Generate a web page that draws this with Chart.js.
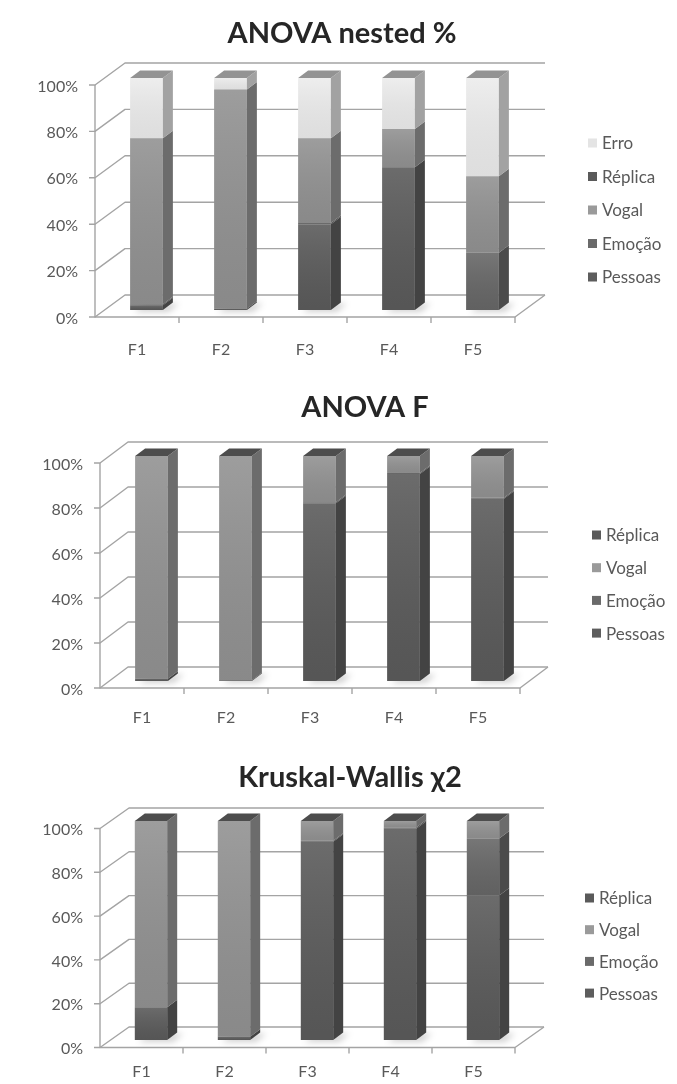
<!DOCTYPE html>
<html>
<head>
<meta charset="utf-8">
<title>ANOVA / Kruskal-Wallis por formante</title>
<script src="https://cdn.jsdelivr.net/npm/chart.js@4.4.1/dist/chart.umd.min.js"></script>
<style>
  html, body { margin: 0; padding: 0; background: #fff; }
  #page { position: relative; width: 677px; height: 1084px; overflow: hidden; }
  #page canvas { position: absolute; left: 0; }
</style>
</head>
<body>
<div id="page">
  <canvas id="chartNested" width="677" height="365" style="top:0"></canvas>
  <canvas id="chartF" width="677" height="365" style="top:365px"></canvas>
  <canvas id="chartKW" width="677" height="354" style="top:730px"></canvas>
</div>
<script>
// Formants on the x axis, share of each factor on the y axis
const categories = ['F1', 'F2', 'F3', 'F4', 'F5'];
const percentTicks = [0, 20, 40, 60, 80, 100];

// ANOVA nested %
const nestedPessoas = [2, 0.5, 37, 61.5, 0];
const nestedEmocao  = [0.5, 0, 0.5, 0, 24.7];
const nestedVogal   = [71.5, 94.5, 36.5, 16.5, 33];
const nestedReplica = [0, 0, 0, 0, 0];
const nestedErro    = [26, 5, 26, 22, 42.3];

// ANOVA F
const fPessoas = [1, 0.3, 79, 92, 81];
const fEmocao  = [0, 0, 0.5, 0.5, 0.5];
const fVogal   = [99, 99.7, 20.5, 7.5, 18.5];
const fReplica = [0, 0, 0, 0, 0];

// Kruskal-Wallis chi2
const kwPessoas = [15, 1.5, 90.5, 96.5, 66];
const kwEmocao  = [0, 0, 0.5, 0.5, 26];
const kwVogal   = [85, 98.5, 9, 3, 8];
const kwReplica = [0, 0, 0, 0, 0];

// grey shades per factor: front face, side face, top face, legend key
const shades = {
    'Pessoas': { face: '#5b5b5b', side: '#434343', top: '#4a4a4a', key: '#5d5d5d' },
    'Emoção':  { face: '#676767', side: '#4b4b4b', top: '#555555', key: '#6a6a6a' },
    'Vogal':   { face: '#929292', side: '#6c6c6c', top: '#7a7a7a', key: '#9a9a9a' },
    'Réplica': { face: '#5e5e5e', side: '#464646', top: '#4d4d4d', key: '#5a5a5a' },
    'Erro':    { face: '#ececec', side: '#a2a2a2', top: '#939393', key: '#e4e4e4' }
};

const FONT = "Lato, 'Open Sans', sans-serif";
Chart.defaults.font.family = FONT;
Chart.defaults.color = '#595959';

// Draws the side wall, back wall, floor and the depth faces of the bars
const pseudo3d = {
    id: 'pseudo3d',
    beforeDatasetsDraw(chart, args, o) {
        const { ctx, chartArea: a, scales: { x, y } } = chart;
        const [fx, fy] = o.front, [bx, by] = o.back;
        ctx.save();
        ctx.strokeStyle = '#a4a4a4';
        ctx.lineWidth = 1.4;
        ctx.lineJoin = 'round';

        y.ticks.forEach(t => {
            const py = y.getPixelForValue(t.value);
            ctx.beginPath();
            ctx.moveTo(a.left + fx - 6, py + fy);
            ctx.lineTo(a.left + fx, py + fy);
            ctx.lineTo(a.left + bx, py + by);
            ctx.lineTo(a.right + bx, py + by);
            ctx.stroke();
        });

        // front axis and floor outline
        ctx.beginPath();
        ctx.moveTo(a.left + fx, a.top + fy);
        ctx.lineTo(a.left + fx, a.bottom + fy);
        ctx.lineTo(a.right + fx, a.bottom + fy);
        ctx.lineTo(a.right + bx, a.bottom + by);
        ctx.stroke();

        for (let i = 0; i < categories.length; i++) {
            const px = x.getPixelForValue(i + 0.5) + fx;
            ctx.beginPath();
            ctx.moveTo(px, a.bottom + fy);
            ctx.lineTo(px, a.bottom + fy + 6);
            ctx.stroke();
        }

        // soft shadow under each bar
        const [dx, dy] = o.depth;
        const first = chart.getDatasetMeta(0);
        ctx.filter = 'blur(3px)';
        ctx.fillStyle = 'rgba(0,0,0,0.18)';
        first.data.forEach(bar => {
            const l = bar.x - bar.width / 2 + 4, r = bar.x + bar.width / 2 + 6;
            const b = a.bottom;
            ctx.beginPath();
            ctx.moveTo(l, b + 2);
            ctx.lineTo(r, b + 2);
            ctx.lineTo(r + dx, b + dy + 1);
            ctx.lineTo(l + dx, b + dy + 1);
            ctx.closePath();
            ctx.fill();
        });
        ctx.restore();
    },
    afterDatasetsDraw(chart, args, o) {
        const { ctx } = chart;
        const [dx, dy] = o.depth;
        const metas = chart.getSortedVisibleDatasetMetas();
        ctx.save();
        metas.forEach(meta => {
            const st = shades[chart.data.datasets[meta.index].label];
            meta.data.forEach(bar => {
                const l = bar.x - bar.width / 2, r = bar.x + bar.width / 2;
                const t = Math.min(bar.y, bar.base), b = Math.max(bar.y, bar.base);
                if (b - t < 0.05) return;

                // light sheen on the front face, brighter at the top of each block
                const g = ctx.createLinearGradient(0, t, 0, b);
                g.addColorStop(0, 'rgba(255,255,255,0.10)');
                g.addColorStop(1, 'rgba(0,0,0,0.06)');
                ctx.fillStyle = g;
                ctx.fillRect(l, t, r - l, b - t);

                ctx.fillStyle = st.side;
                ctx.beginPath();
                ctx.moveTo(r, b);
                ctx.lineTo(r, t);
                ctx.lineTo(r + dx, t + dy);
                ctx.lineTo(r + dx, b + dy);
                ctx.closePath();
                ctx.fill();
            });
        });

        // cap of every stack takes the colour of the last series
        const last = metas[metas.length - 1];
        const cap = shades[chart.data.datasets[last.index].label];
        last.data.forEach(bar => {
            const l = bar.x - bar.width / 2, r = bar.x + bar.width / 2;
            const t = Math.min(bar.y, bar.base);
            ctx.fillStyle = cap.top;
            ctx.beginPath();
            ctx.moveTo(l, t);
            ctx.lineTo(l + dx, t + dy);
            ctx.lineTo(r + dx, t + dy);
            ctx.lineTo(r, t);
            ctx.closePath();
            ctx.fill();
        });
        ctx.restore();
    },
    afterDraw(chart, args, o) {
        const { ctx } = chart;
        ctx.save();
        ctx.fillStyle = '#262626';
        ctx.font = 'bold 29px ' + FONT;
        ctx.textAlign = 'center';
        ctx.textBaseline = 'middle';
        ctx.fillText(o.title, o.titleX, o.titleY);

        ctx.font = '17px ' + FONT;
        ctx.textAlign = 'left';
        chart.data.datasets.slice().reverse().forEach((ds, i) => {
            const ly = o.legendY + i * o.legendGap;
            ctx.fillStyle = shades[ds.label].key;
            ctx.fillRect(o.legendX, ly - 4.5, 9, 9);
            ctx.fillStyle = '#595959';
            ctx.fillText(ds.label, o.legendX + 14, ly + 1);
        });
        ctx.restore();
    }
};

function buildChart(id, series, geo) {
    const canvas = document.getElementById(id);
    const H = canvas.height, W = canvas.width;
    const xAxisH = 45;
    return new Chart(canvas, {
        type: 'bar',
        data: {
            labels: categories,
            datasets: series.map(s => ({
                label: s.label,
                data: s.data,
                backgroundColor: shades[s.label].face,
                borderWidth: 0,
                barPercentage: 0.39,
                categoryPercentage: 1
            }))
        },
        options: {
            responsive: false,
            animation: false,
            layout: {
                padding: { left: 0, top: geo.top, right: W - geo.right, bottom: H - geo.bottom - xAxisH }
            },
            scales: {
                x: {
                    stacked: true,
                    grid: { display: false, drawTicks: false },
                    border: { display: false },
                    ticks: { labelOffset: geo.front[0], padding: geo.labelPad, font: { size: 16 } },
                    afterFit(axis) { axis.height = xAxisH; }
                },
                y: {
                    stacked: true,
                    min: 0,
                    max: 100,
                    grid: { display: false, drawTicks: false },
                    border: { display: false },
                    afterBuildTicks(axis) { axis.ticks = percentTicks.map(v => ({ value: v })); },
                    ticks: {
                        padding: 26.5,
                        labelOffset: geo.front[1] + 1.5,
                        font: { size: 16 },
                        callback: v => v + '%'
                    },
                    afterFit(axis) { axis.width = geo.left; }
                }
            },
            plugins: {
                legend: { display: false },
                tooltip: { enabled: false },
                pseudo3d: geo
            }
        },
        plugins: [pseudo3d]
    });
}

buildChart('chartNested', [
    { label: 'Pessoas', data: nestedPessoas },
    { label: 'Emoção', data: nestedEmocao },
    { label: 'Vogal', data: nestedVogal },
    { label: 'Réplica', data: nestedReplica },
    { label: 'Erro', data: nestedErro }
], {
    left: 104.5, right: 524.5, top: 78, bottom: 310,
    front: [-9.5, 7], back: [20.5, -15], depth: [10, -7.5],
    labelPad: 30,
    title: 'ANOVA nested %', titleX: 342, titleY: 34,
    legendX: 588, legendY: 143, legendGap: 33.5
});

buildChart('chartF', [
    { label: 'Pessoas', data: fPessoas },
    { label: 'Emoção', data: fEmocao },
    { label: 'Vogal', data: fVogal },
    { label: 'Réplica', data: fReplica }
], {
    left: 109.5, right: 529.5, top: 91, bottom: 316,
    front: [-9.5, 7], back: [18.5, -14], depth: [10, -7.5],
    labelPad: 27,
    title: 'ANOVA F', titleX: 365, titleY: 43,
    legendX: 592, legendY: 170, legendGap: 32.7
});

buildChart('chartKW', [
    { label: 'Pessoas', data: kwPessoas },
    { label: 'Emoção', data: kwEmocao },
    { label: 'Vogal', data: kwVogal },
    { label: 'Réplica', data: kwReplica }
], {
    left: 109.5, right: 524.5, top: 91, bottom: 310,
    front: [-9.5, 7.5], back: [19.5, -13], depth: [10, -7.5],
    labelPad: 22,
    title: 'Kruskal-Wallis χ2', titleX: 350, titleY: 48,
    legendX: 585, legendY: 168, legendGap: 31.7
});
</script>
</body>
</html>
